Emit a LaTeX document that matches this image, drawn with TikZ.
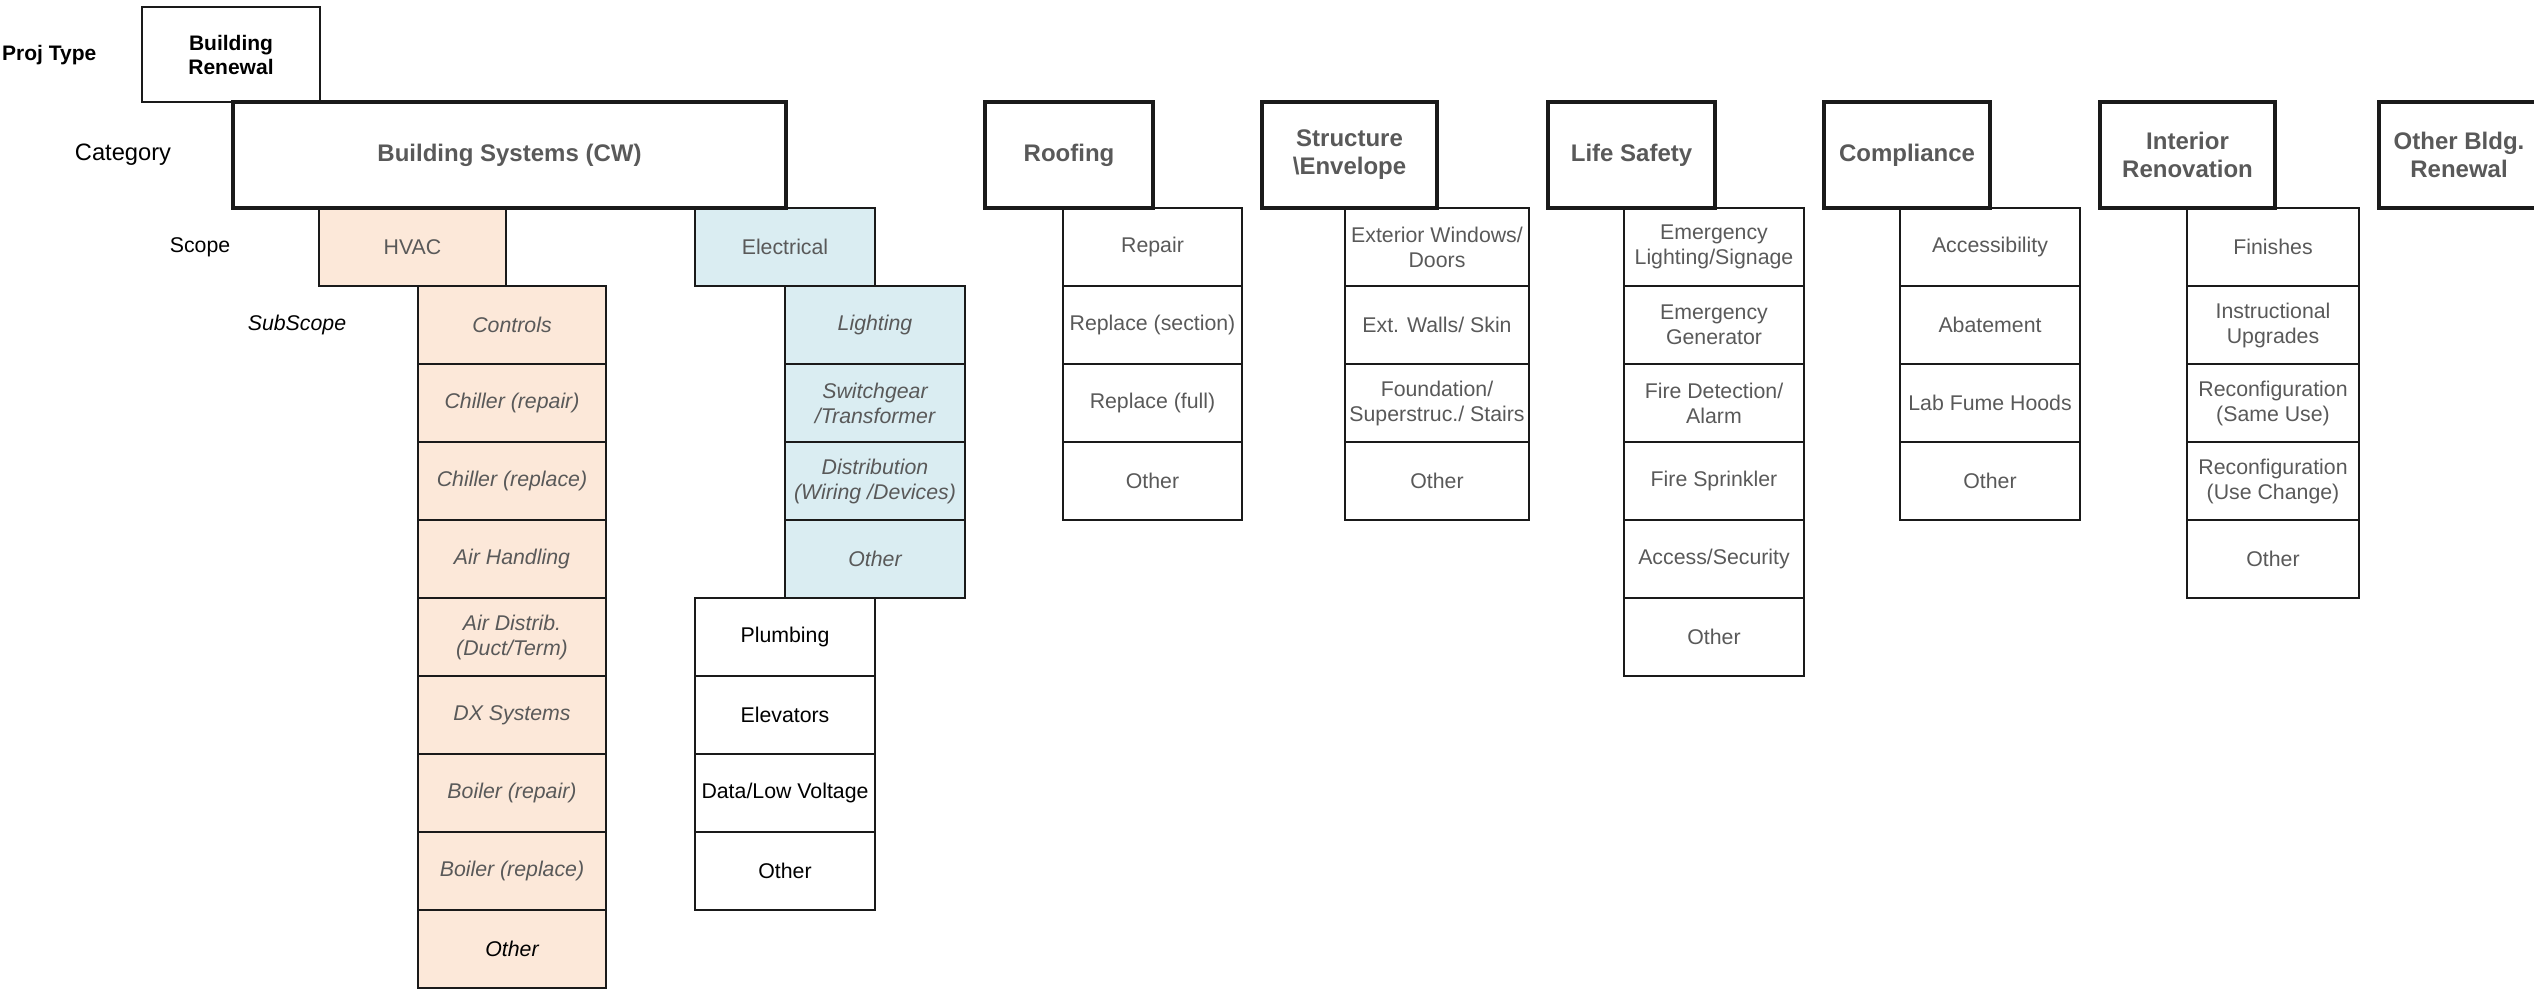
\documentclass[tikz,border=0pt]{standalone}
\usepackage{fontspec}
\setmainfont{Liberation Sans}
\definecolor{txt}{HTML}{595959}
\definecolor{peach}{HTML}{FCE8D9}
\definecolor{lblue}{HTML}{DAEDF2}
\definecolor{edge}{HTML}{1A1A1A}
\tikzset{
  box/.style={draw=edge, rectangle, anchor=north west, inner sep=0pt, outer sep=0pt, align=center},
  cat/.style={box, line width=3.2pt, text=txt, font=\fontsize{24}{28}\selectfont\bfseries},
  cell/.style={box, line width=1.5pt, text=txt, font=\fontsize{21.3}{25}\selectfont},
  hv/.style={cell, fill=peach, font=\fontsize{21.3}{25}\selectfont\itshape},
  el/.style={cell, fill=lblue, font=\fontsize{21.3}{25}\selectfont\itshape},
  lbl/.style={inner sep=0pt, text=black, font=\fontsize{21.3}{25}\selectfont},
  rowcell/.style={minimum height=78pt}
}
\begin{document}
\begin{tikzpicture}[x=1pt,y=-1pt]
\useasboundingbox (0,0) rectangle (2534,988);

% row labels
\node[lbl, anchor=west, font=\fontsize{21}{25}\selectfont\bfseries] (lproj) at (2,55) {Proj Type};
\node[lbl, font=\fontsize{23.7}{28}\selectfont] (lcat) at (123,155) {Category};
\node[lbl] (lscope) at (200,247) {Scope};
\node[lbl, font=\fontsize{21.3}{25}\selectfont\itshape] (lsub) at (297,325) {SubScope};

% project type
\node[box, line width=1.5pt, text=black, font=\fontsize{21}{24}\selectfont\bfseries,
      minimum width=178pt, minimum height=95pt] (proj) at (142,7) {Building\\Renewal};

% scope boxes
\node[cell, fill=peach, minimum width=187pt, rowcell] (hvac) at (319,208) {HVAC};
\node[cell, fill=lblue, minimum width=180pt, rowcell] (elec) at (695,208) {Electrical};

% HVAC subscopes
\foreach \t [count=\i from 0] in {Controls, Chiller (repair), Chiller (replace), Air Handling,
  Air Distrib.\\(Duct/Term), DX Systems, Boiler (repair), Boiler (replace)}
  \node[hv, minimum width=188pt, rowcell] (hv-\i) at (418,{286+78*\i}) {\t};
\node[hv, text=black, minimum width=188pt, rowcell] (hv-8) at (418,910) {Other};

% Electrical subscopes
\foreach \t [count=\i from 0] in {Lighting, Switchgear\\/Transformer, Distribution\\(Wiring /Devices), Other}
  \node[el, minimum width=180pt, rowcell] (el-\i) at (785,{286+78*\i}) {\t};

% other building systems scopes
\foreach \t [count=\i from 0] in {Plumbing, Elevators, Data/Low Voltage, Other}
  \node[cell, text=black, minimum width=180pt, rowcell] (bs-\i) at (695,{598+78*\i}) {\t};

% Roofing
\foreach \t [count=\i from 0] in {Repair, Replace (section), Replace (full), Other}
  \node[cell, minimum width=179pt, rowcell] (rf-\i) at (1063,{208+78*\i}) {\t};

% Structure
\foreach \t [count=\i from 0] in {Exterior Windows/\\Doors, Ext. Walls/ Skin, Foundation/\\Superstruc./ Stairs, Other}
  \node[cell, minimum width=184pt, rowcell] (st-\i) at (1345,{208+78*\i}) {\t};

% Life Safety
\foreach \t [count=\i from 0] in {Emergency\\Lighting/Signage, Emergency\\Generator, Fire Detection/\\Alarm,
  Fire Sprinkler, Access/Security, Other}
  \node[cell, minimum width=180pt, rowcell] (ls-\i) at (1624,{208+78*\i}) {\t};

% Compliance
\foreach \t [count=\i from 0] in {Accessibility, Abatement, Lab Fume Hoods, Other}
  \node[cell, minimum width=180pt, rowcell] (co-\i) at (1900,{208+78*\i}) {\t};

% Interior Renovation
\foreach \t [count=\i from 0] in {Finishes, Instructional\\Upgrades, Reconfiguration\\(Same Use),
  Reconfiguration\\(Use Change), Other}
  \node[cell, minimum width=172pt, rowcell] (ir-\i) at (2187,{208+78*\i}) {\t};

% heavier outer edges
\draw[draw=edge, line width=2.6pt] (ls-0.north east) -- (ls-5.south east) -- (ls-5.south west);
\draw[draw=edge, line width=2.6pt] (co-0.north east) -- (co-3.south east) -- (co-3.south west);
\draw[draw=edge, line width=2.6pt] (ir-0.north east) -- (ir-4.south east);

% categories
\node[cat, minimum width=553pt, minimum height=106pt] (cbs) at (233,102) {Building Systems (CW)};
\node[cat, minimum width=168pt, minimum height=106pt] (crf) at (985,102) {Roofing};
\node[cat, minimum width=175pt, minimum height=106pt] (cst) at (1262,102) {Structure\\\textbackslash Envelope};
\node[cat, minimum width=167pt, minimum height=106pt] (cls) at (1548,102) {Life Safety};
\node[cat, minimum width=166pt, minimum height=106pt] (cco) at (1824,102) {Compliance};
\node[cat, minimum width=175pt, minimum height=106pt] (cir) at (2100,102) {Interior\\Renovation};
\node[cat, minimum width=160pt, minimum height=106pt] (cob) at (2379,102) {Other Bldg.\\Renewal};
\end{tikzpicture}
\end{document}
